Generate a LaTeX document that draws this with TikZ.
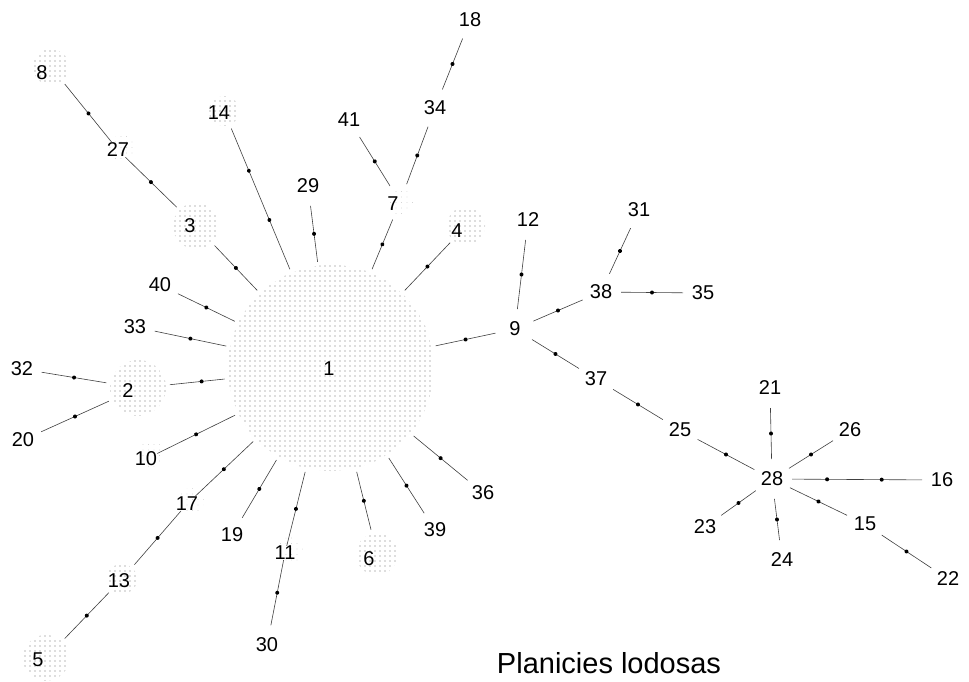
\documentclass[tikz,border=0pt]{standalone}
\usepackage{fontspec}
\setmainfont{Liberation Sans}
\usetikzlibrary{patterns.meta,decorations.markings}

\newcommand{\lblfont}{\fontsize{20}{24}\selectfont}

\tikzset{
  hap/.style={circle, inner sep=0pt, outer sep=0pt, minimum size=40pt, font=\lblfont},
  freq/.style={circle, inner sep=0pt, outer sep=4pt,
    pattern={Dots[distance=5pt, radius=0.55pt]}, pattern color=black!55},
  faint/.style={circle, inner sep=0pt, outer sep=6pt, minimum size=26pt,
    pattern={Dots[distance=5.5pt, radius=0.45pt]}, pattern color=black!25},
  tag/.style={inner sep=0pt, font=\lblfont},
  link/.style={draw=black!75, line width=0.6pt},
  mut/.style={postaction={decorate, decoration={markings,
    mark=at position #1 with {\fill[black] (0,0) circle (2pt);}}}},
  mut/.default=0.5,
  twomut/.style 2 args={postaction={decorate, decoration={markings,
    mark=at position #1 with {\fill[black] (0,0) circle (2pt);},
    mark=at position #2 with {\fill[black] (0,0) circle (2pt);}}}},
}

\begin{document}
\begin{tikzpicture}[x=1pt, y=-1pt]
\fill[white] (0,0) rectangle (969,679);

% haplotypes drawn as stippled circles (size ~ frequency)
\node[freq, minimum size=206pt] (h1) at (331,366) {};
\node[freq, minimum size=36pt] (h8) at (51,65) {};
\node[freq, minimum size=46pt] (h3) at (196,224) {};
\node[freq, minimum size=30pt] (h14) at (224,109) {};
\node[freq, minimum size=38pt] (h4) at (466,224) {};
\node[freq, minimum size=56pt] (h2) at (138,386) {};
\node[freq, minimum size=30pt] (h13) at (122,577) {};
\node[freq, minimum size=46pt] (h5) at (46,656) {};
\node[freq, minimum size=42pt] (h6) at (377,552) {};
\node[faint] (h27) at (122,146) {};
\node[faint] (h10) at (151,452) {};
\node[faint] (h17) at (191,499) {};
\node[faint] (h11) at (290,548) {};
\node[faint] (h7) at (400,200) {};

% labels of the circled haplotypes
\node[tag] (t1) at (329,367) {1};
\node[tag] (t8) at (42,71) {8};
\node[tag] (t3) at (190,224) {3};
\node[tag] (t14) at (219,111) {14};
\node[tag] (t4) at (457,229) {4};
\node[tag] (t2) at (128,389) {2};
\node[tag] (t13) at (119,579) {13};
\node[tag] (t5) at (38,658) {5};
\node[tag] (t6) at (369,557) {6};
\node[tag] (t27) at (118,148) {27};
\node[tag] (t10) at (146,457) {10};
\node[tag] (t17) at (187,502) {17};
\node[tag] (t11) at (285,551) {11};
\node[tag] (t7) at (393,202) {7};

% single-sample haplotypes
\node[hap] (h29) at (308,184) {29};
\node[hap] (h41) at (349,118) {41};
\node[hap] (h34) at (435,106) {34};
\node[hap] (h18) at (470,18) {18};
\node[hap] (h12) at (528,218) {12};
\node[hap] (h9) at (515,327) {9};
\node[hap] (h31) at (639,208) {31};
\node[hap] (h38) at (601,290) {38};
\node[hap] (h35) at (703,291) {35};
\node[hap] (h37) at (596,377) {37};
\node[hap] (h25) at (680,428) {25};
\node[hap] (h28) at (772,477) {28};
\node[hap] (h21) at (770,386) {21};
\node[hap] (h26) at (850,428) {26};
\node[hap] (h16) at (942,478) {16};
\node[hap] (h15) at (865,522) {15};
\node[hap] (h22) at (948,577) {22};
\node[hap] (h23) at (705,525) {23};
\node[hap] (h24) at (782,558) {24};
\node[hap] (h40) at (160,283) {40};
\node[hap] (h33) at (135,325) {33};
\node[hap] (h32) at (22,367) {32};
\node[hap] (h20) at (23,438) {20};
\node[hap] (h19) at (232,533) {19};
\node[hap] (h30) at (267,643) {30};
\node[hap] (h39) at (435,528) {39};
\node[hap] (h36) at (483,491) {36};

% mutational steps
\draw[link, mut] (h8) -- (t27);
\draw[link, mut] (t27) -- (h3);
\draw[link, mut] (h3) -- (h1);
\draw[link, twomut={0.3}{0.65}] (h14) -- (h1);
\draw[link, mut] (h29) -- (h1);
\draw[link, mut] (h7) -- (h1);
\draw[link, mut] (h41) -- (h7);
\draw[link, mut] (h34) -- (h7);
\draw[link, mut] (h18) -- (h34);
\draw[link, mut] (h4) -- (h1);
\draw[link, mut] (h9) -- (h1);
\draw[link, mut] (h12) -- (h9);
\draw[link, mut] (h9) -- (h38);
\draw[link, mut] (h31) -- (h38);
\draw[link, mut] (h38) -- (h35);
\draw[link, mut] (h9) -- (h37);
\draw[link, mut] (h37) -- (h25);
\draw[link, mut] (h25) -- (h28);
\draw[link, mut] (h21) -- (h28);
\draw[link, mut] (h26) -- (h28);
\draw[link, twomut={0.27}{0.69}] (h28) -- (h16);
\draw[link, mut] (h28) -- (h15);
\draw[link, mut] (h15) -- (h22);
\draw[link, mut] (h23) -- (h28);
\draw[link, mut] (h24) -- (h28);
\draw[link, mut] (h40) -- (h1);
\draw[link, mut] (h33) -- (h1);
\draw[link, mut=0.58] (h2) -- (h1);
\draw[link, mut] (h32) -- (h2);
\draw[link, mut] (h20) -- (h2);
\draw[link, mut] (t10) -- (h1);
\draw[link, mut] (t17) -- (h1);
\draw[link, mut] (h13) -- (t17);
\draw[link, mut] (h5) -- (h13);
\draw[link, mut] (h19) -- (h1);
\draw[link, mut] (t11) -- (h1);
\draw[link, mut] (h30) -- (t11);
\draw[link, mut] (h6) -- (h1);
\draw[link, mut] (h39) -- (h1);
\draw[link, mut] (h36) -- (h1);

\node[font=\fontsize{29}{34}\selectfont] (title) at (609,661) {Planicies lodosas};
\end{tikzpicture}
\end{document}
